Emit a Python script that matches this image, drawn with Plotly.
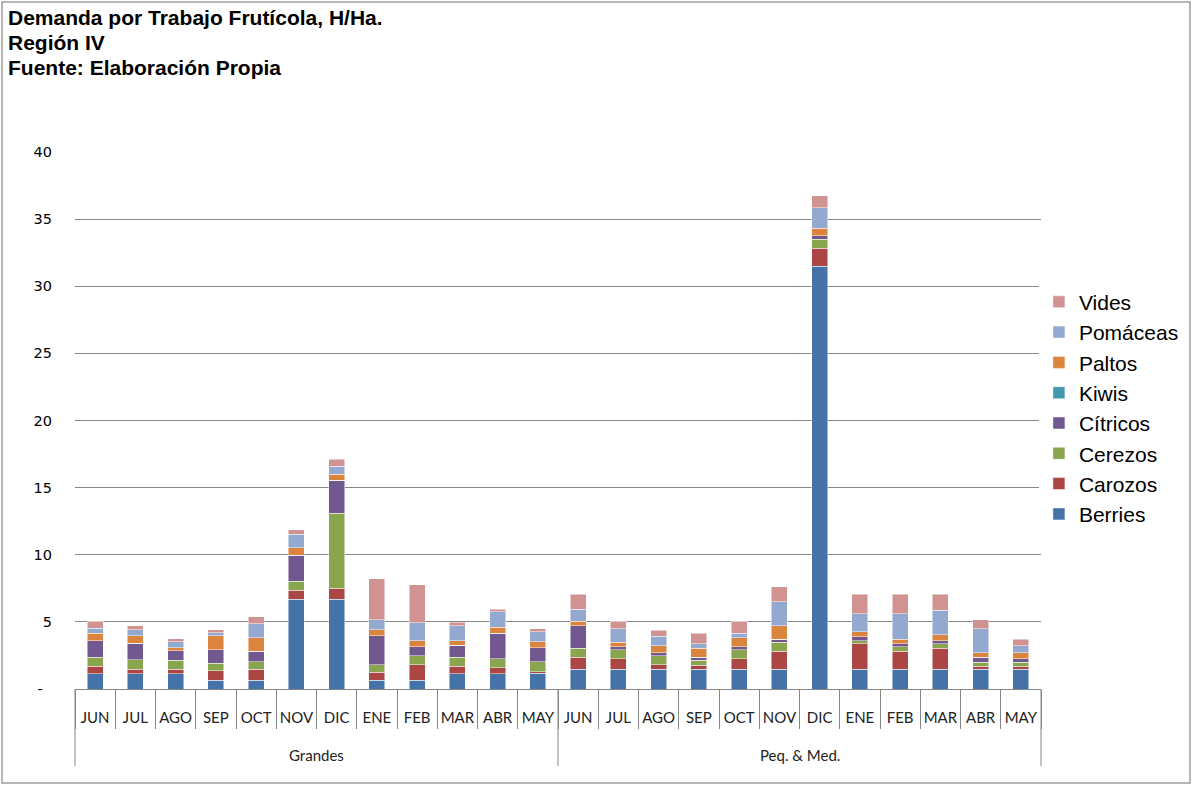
import plotly.graph_objects as go

meses = ['JUN', 'JUL', 'AGO', 'SEP', 'OCT', 'NOV', 'DIC', 'ENE', 'FEB', 'MAR', 'ABR', 'MAY']
grupos = ['Grandes', 'Peq. & Med.']

# H/Ha por especie: 12 meses Grandes + 12 meses Peq. & Med.
berries = [1.12, 1.12, 1.12, 0.67, 0.67, 6.68, 6.68, 0.67, 0.67, 1.12, 1.12, 1.19,
           1.46, 1.46, 1.46, 1.46, 1.46, 1.46, 31.5, 1.46, 1.46, 1.46, 1.46, 1.46]
carozos = [0.57, 0.35, 0.35, 0.70, 0.80, 0.68, 0.82, 0.57, 1.14, 0.57, 0.47, 0.10,
           0.89, 0.79, 0.35, 0.32, 0.79, 1.34, 1.34, 1.91, 1.34, 1.56, 0.22, 0.22]
cerezos = [0.67, 0.70, 0.67, 0.55, 0.57, 0.66, 5.59, 0.57, 0.67, 0.67, 0.67, 0.75,
           0.67, 0.67, 0.67, 0.35, 0.67, 0.69, 0.67, 0.22, 0.35, 0.35, 0.32, 0.32]
citricos = [1.24, 1.22, 0.70, 1.02, 0.77, 1.93, 2.46, 2.14, 0.67, 0.90, 1.89, 1.02,
            1.68, 0.22, 0.22, 0.22, 0.22, 0.22, 0.25, 0.32, 0.22, 0.22, 0.35, 0.25]
kiwis = [0] * 24
paltos = [0.55, 0.57, 0.22, 1.02, 1.02, 0.56, 0.46, 0.45, 0.45, 0.35, 0.45, 0.45,
          0.35, 0.35, 0.54, 0.67, 0.67, 0.99, 0.55, 0.35, 0.35, 0.45, 0.35, 0.45]
pomaceas = [0.37, 0.45, 0.45, 0.22, 1.02, 1.01, 0.58, 0.75, 1.34, 1.12, 1.14, 0.77,
            0.89, 0.99, 0.69, 0.35, 0.35, 1.81, 1.53, 1.34, 1.88, 1.81, 1.78, 0.54]
vides = [0.52, 0.32, 0.22, 0.22, 0.55, 0.33, 0.54, 3.06, 2.81, 0.25, 0.20, 0.22,
         1.11, 0.57, 0.45, 0.79, 0.89, 1.11, 0.92, 1.46, 1.46, 1.21, 0.67, 0.45]

series = [
    ('Berries', berries, '#4572A7'),
    ('Carozos', carozos, '#AA4643'),
    ('Cerezos', cerezos, '#89A54E'),
    ('Cítricos', citricos, '#71588F'),
    ('Kiwis', kiwis, '#4198AF'),
    ('Paltos', paltos, '#DB843D'),
    ('Pomáceas', pomaceas, '#93A9CF'),
    ('Vides', vides, '#D19392'),
]

titulo = ['Demanda por Trabajo Frutícola, H/Ha.', 'Región IV', 'Fuente: Elaboración Propia']

W, H = 1194, 786
L, R, T, B = 75, 153, 152, 97
pw, ph = W - L - R, H - T - B
GRIS = '#868686'

fig = go.Figure()
# un eje x por grupo (Grandes / Peq. & Med.), el eje y compartido
n = len(meses)
for k, grupo in enumerate(grupos):
    for nombre, valores, color in series:
        fig.add_trace(go.Bar(x=meses, y=valores[k * n:(k + 1) * n], name=nombre,
                             legendgroup=nombre, showlegend=(k == 0),
                             xaxis='x' if k == 0 else 'x2',
                             marker=dict(color=color, line=dict(color='rgba(255,255,255,0.6)', width=0.8))))
    fig.add_annotation(text=grupo, xref='paper', yref='paper', x=0.25 + 0.5 * k, y=-66 / ph,
                       xanchor='center', yanchor='middle', showarrow=False,
                       font=dict(family='Lato, sans-serif', size=15, color='#222222'))

# titulo en tres lineas, negrita, arriba a la izquierda
for i, linea in enumerate(titulo):
    fig.add_annotation(text='<b>%s</b>' % linea, xref='paper', yref='paper',
                       x=-(L - 6) / pw, y=(ph + T - 17 - 25.5 * i) / ph,
                       xanchor='left', yanchor='middle', showarrow=False,
                       font=dict(size=21, color='black'))

eje_x = dict(type='category', showline=True, linecolor=GRIS, linewidth=1,
             ticks='outside', tickson='boundaries', ticklen=39, tickcolor=GRIS,
             tickangle=0, ticklabelstandoff=15, anchor='y', showgrid=False,
             tickfont=dict(family='Lato, sans-serif', size=15, color='#222222'))

# separadores verticales de grupo y marco exterior
shapes = [dict(type='line', xref='paper', yref='paper', x0=xv, x1=xv, y0=0, y1=-77 / ph,
               line=dict(color=GRIS, width=1)) for xv in (0, 0.5, 1)]
shapes.append(dict(type='rect', xref='paper', yref='paper',
                   x0=-(L - 2) / pw, x1=(W - L - 4) / pw, y0=-(B - 3) / ph, y1=(ph + T - 2) / ph,
                   line=dict(color='#a0a0a0', width=1.5)))

fig.update_layout(
    width=W, height=H,
    barmode='stack', bargap=0.6,
    margin=dict(l=L, r=R, t=T, b=B, autoexpand=False),
    paper_bgcolor='white', plot_bgcolor='white',
    font=dict(family='Liberation Sans, Arial, sans-serif', color='black'),
    legend=dict(traceorder='reversed', x=1.002 - 4 / pw, xanchor='left', y=0.523, yanchor='middle',
                font=dict(size=21, color='black'), itemwidth=30),
    xaxis=dict(eje_x, domain=[0, 0.5]),
    xaxis2=dict(eje_x, domain=[0.5, 1]),
    yaxis=dict(range=[0, 40], tickvals=[0, 5, 10, 15, 20, 25, 30, 35, 40],
               ticktext=['-\u00a0\u00a0', '5', '10', '15', '20', '25', '30', '35', '40'],
               showgrid=True, gridcolor=GRIS, gridwidth=1, zeroline=False,
               showline=False, ticks='', ticklabelstandoff=22,
               tickfont=dict(family='DejaVu Sans, sans-serif', size=14.5, color='black')),
    shapes=shapes,
)

fig.write_html('out.html', config={'displayModeBar': False},
               post_script="document.body.style.margin='0';")
